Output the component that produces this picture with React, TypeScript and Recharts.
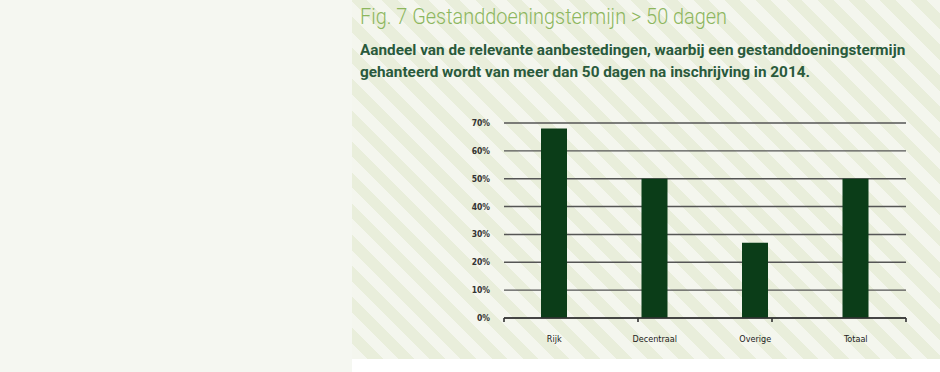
import React from 'react';
import { BarChart, Bar, XAxis, YAxis, CartesianGrid } from 'recharts';

const categories = ['Rijk', 'Decentraal', 'Overige', 'Totaal'];
const shares = [68, 50, 27, 50];
const yTicks = [0, 10, 20, 30, 40, 50, 60, 70];
const boundaryTicks = [0, 1, 2, 3, 4];

const data = categories.map((name, i) => ({ name, value: shares[i] }));

const stripes =
  'repeating-linear-gradient(45deg, #f4f6ee 0px, #f4f6ee 11px, #e9eedb 11px, #e9eedb 22px)';

export default function App() {
  return (
    <div style={{ position: 'absolute', left: 0, top: 0, width: 940, height: 372, background: '#f5f7f1', overflow: 'hidden' }}>
      <div style={{ position: 'absolute', left: 352, top: 359, width: 588, height: 13, background: '#ffffff' }} />
      <div style={{ position: 'absolute', left: 352, top: 0, width: 588, height: 359, background: stripes }}>
        <div
          style={{
            position: 'absolute', left: 8, top: 4, whiteSpace: 'nowrap',
            fontFamily: 'Roboto', fontWeight: 300, fontSize: 21.5, color: '#8db65e',
            transform: 'scaleX(0.925)', transformOrigin: 'left top',
          }}
        >
          Fig. 7 Gestanddoeningstermijn &gt; 50 dagen
        </div>
        <div
          style={{
            position: 'absolute', left: 8, top: 39, whiteSpace: 'nowrap',
            fontFamily: 'Roboto', fontWeight: 700, fontSize: 14, lineHeight: '22px', color: '#2a5a3c',
            transform: 'scaleX(1.095)', transformOrigin: 'left top',
          }}
        >
          Aandeel van de relevante aanbestedingen, waarbij een gestanddoeningstermijn
          <br />
          gehanteerd wordt van meer dan 50 dagen na inschrijving in 2014.
        </div>
        <div style={{ position: 'absolute', left: 0, top: 0 }}>
          <BarChart width={588} height={359} data={data} margin={{ top: 123, right: 34, bottom: 0, left: 0 }}>
            <CartesianGrid vertical={false} stroke="#555" strokeWidth={1.4} />
            <XAxis
              xAxisId="bounds"
              type="number"
              domain={[0, 4]}
              ticks={boundaryTicks}
              tick={() => <g />}
              height={1}
              tickSize={4}
              axisLine={{ stroke: '#333', strokeWidth: 1.6 }}
              tickLine={{ stroke: '#333', strokeWidth: 1.6 }}
            />
            <XAxis
              xAxisId="cat"
              dataKey="name"
              height={40}
              axisLine={false}
              tickLine={false}
              tickMargin={11}
              tick={{ fontFamily: 'DejaVu Sans Condensed', fontSize: 9, fill: '#222' }}
            />
            <YAxis
              width={152}
              domain={[0, 70]}
              ticks={yTicks}
              axisLine={false}
              tickLine={false}
              tickMargin={8}
              tickFormatter={(v: number) => `${v}%`}
              tick={{ fontFamily: 'DejaVu Sans Condensed', fontWeight: 700, fontSize: 8.5, fill: '#333' }}
            />
            <Bar xAxisId="cat" dataKey="value" fill="#0b3d18" barSize={26} isAnimationActive={false} />
          </BarChart>
        </div>
      </div>
    </div>
  );
}
